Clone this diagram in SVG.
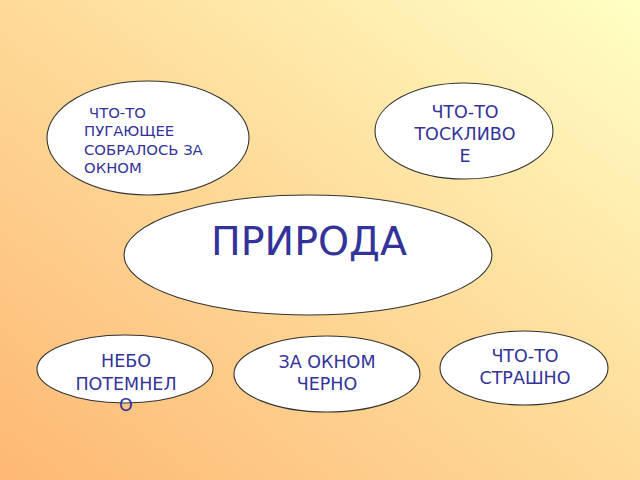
<svg xmlns="http://www.w3.org/2000/svg" width="640" height="480" viewBox="0 0 640 480">
<defs>
<linearGradient id="bg" x1="0" y1="1" x2="1" y2="0">
<stop offset="0" stop-color="#FDB874"/>
<stop offset="0.5" stop-color="#FEDA98"/>
<stop offset="1" stop-color="#FFFFC4"/>
</linearGradient>
<style>
.n{fill:#FFFFFF;stroke:#333333;stroke-width:1.1}
.t{font-family:"DejaVu Sans",Verdana,sans-serif;fill:#333399}
.c{text-anchor:middle}
</style>
</defs>
<rect x="0" y="0" width="640" height="480" fill="url(#bg)"/>
<g id="connectors"></g>
<g id="node1">
<ellipse class="n" cx="148" cy="138" rx="101" ry="57"/>
<text class="t" font-size="14.8"><tspan x="89" y="118">ЧТО-ТО</tspan><tspan x="84" y="136">ПУГАЮЩЕЕ</tspan><tspan x="84" y="155">СОБРАЛОСЬ ЗА</tspan><tspan x="84" y="173">ОКНОМ</tspan></text>
</g>
<g id="node2">
<ellipse class="n" cx="464" cy="131" rx="89" ry="48"/>
<text class="t c" font-size="17.5"><tspan x="465" y="118">ЧТО-ТО</tspan><tspan x="465" y="140">ТОСКЛИВО</tspan><tspan x="465" y="162">Е</tspan></text>
</g>
<g id="node3">
<ellipse class="n" cx="308" cy="255" rx="184" ry="60"/>
<text class="t c" font-size="39.5" x="309" y="255">ПРИРОДА</text>
</g>
<g id="node4">
<ellipse class="n" cx="125" cy="369" rx="88" ry="34"/>
<text class="t c" font-size="17.5"><tspan x="126" y="367">НЕБО</tspan><tspan x="126" y="390">ПОТЕМНЕЛ</tspan><tspan x="126" y="411">О</tspan></text>
</g>
<g id="node5">
<ellipse class="n" cx="327" cy="374" rx="93" ry="38"/>
<text class="t c" font-size="17.5"><tspan x="327" y="368">ЗА ОКНОМ</tspan><tspan x="327" y="390">ЧЕРНО</tspan></text>
</g>
<g id="node6">
<ellipse class="n" cx="524" cy="368" rx="84" ry="37"/>
<text class="t c" font-size="17.5"><tspan x="525" y="362">ЧТО-ТО</tspan><tspan x="525" y="384">СТРАШНО</tspan></text>
</g>
</svg>
